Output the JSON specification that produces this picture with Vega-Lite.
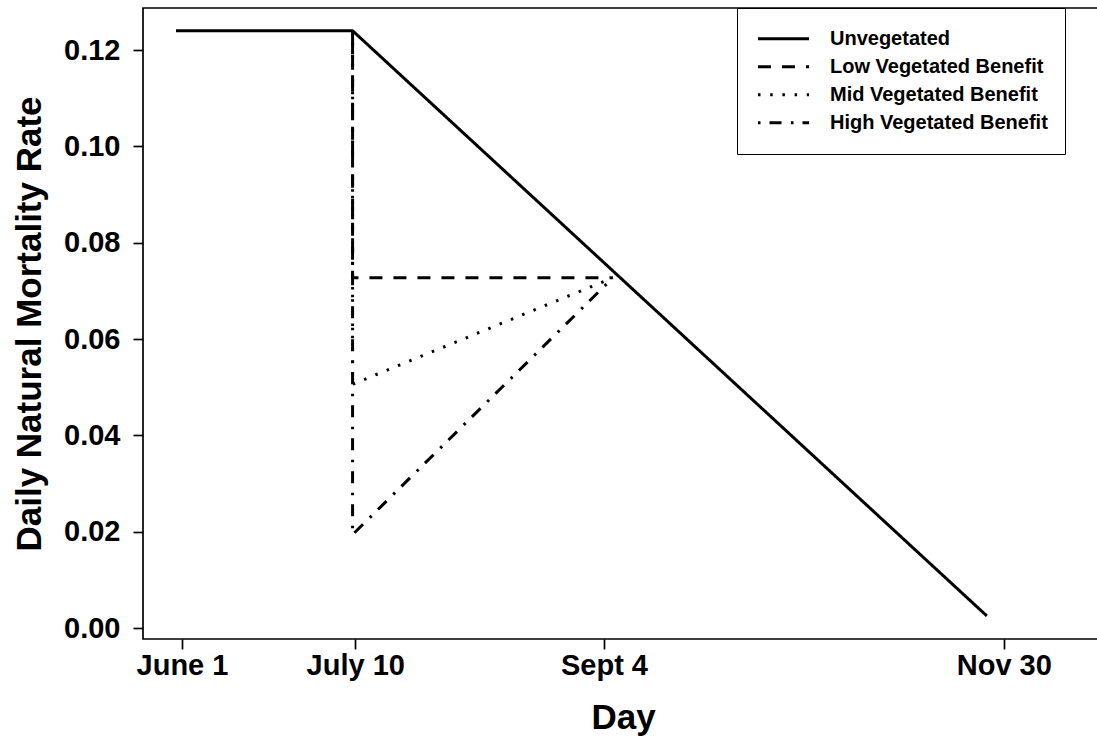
{
  "$schema": "https://vega.github.io/schema/vega-lite/v6.json",
  "width": 960,
  "height": 631,
  "autosize": {"type": "none"},
  "padding": {"left": 143, "top": 8, "right": 0, "bottom": 105},
  "background": "white",
  "config": {
    "view": {"stroke": "black", "strokeWidth": 1.7},
    "axis": {
      "labelFont": "Liberation Sans",
      "labelFontSize": 29,
      "labelFontWeight": "bold",
      "labelColor": "black",
      "tickColor": "black",
      "tickWidth": 1.7,
      "tickSize": 10,
      "domain": false,
      "grid": false,
      "titleFont": "Liberation Sans",
      "titleFontSize": 35,
      "titleFontWeight": "bold",
      "titleColor": "black",
      "labelOverlap": false,
      "labelFlush": false,
      "labelBound": false
    },
    "legend": {
      "orient": "none",
      "legendX": 594,
      "legendY": 0,
      "title": null,
      "strokeColor": "black",
      "fillColor": "white",
      "padding": 17,
      "clipHeight": 27.7,
      "rowPadding": 0,
      "symbolType": "stroke",
      "symbolSize": 2601,
      "symbolStrokeWidth": 3,
      "symbolStrokeColor": "black",
      "symbolOffset": 2.5,
      "labelFont": "Liberation Sans",
      "labelFontSize": 20,
      "labelFontWeight": "bold",
      "labelColor": "black",
      "labelOffset": 19.5,
      "labelLimit": 400
    }
  },
  "data": {
    "values": [
      {"series": "Unvegetated", "day": -1.35, "rate": 0.124, "order": 1},
      {"series": "Unvegetated", "day": 38.4, "rate": 0.124, "order": 2},
      {"series": "Unvegetated", "day": 181.2, "rate": 0.0025, "order": 3},
      {"series": "Low Vegetated Benefit", "day": 38.4, "rate": 0.124, "order": 1},
      {"series": "Low Vegetated Benefit", "day": 38.4, "rate": 0.0727, "order": 2},
      {"series": "Low Vegetated Benefit", "day": 97, "rate": 0.0727, "order": 3},
      {"series": "Mid Vegetated Benefit", "day": 38.4, "rate": 0.124, "order": 1},
      {"series": "Mid Vegetated Benefit", "day": 38.4, "rate": 0.0506, "order": 2},
      {"series": "Mid Vegetated Benefit", "day": 97, "rate": 0.0727, "order": 3},
      {"series": "High Vegetated Benefit", "day": 38.4, "rate": 0.124, "order": 1},
      {"series": "High Vegetated Benefit", "day": 38.4, "rate": 0.0194, "order": 2},
      {"series": "High Vegetated Benefit", "day": 97, "rate": 0.0727, "order": 3}
    ]
  },
  "mark": {"type": "line", "color": "black", "strokeWidth": 3},
  "encoding": {
    "x": {
      "field": "day",
      "type": "quantitative",
      "scale": {"domain": [-8.78, 207.34], "nice": false, "zero": false},
      "axis": {
        "title": "Day",
        "values": [0, 39, 95, 185],
        "labelExpr": "datum.value == 0 ? 'June 1' : datum.value == 39 ? 'July 10' : datum.value == 95 ? 'Sept 4' : 'Nov 30'",
        "labelPadding": 2,
        "titlePadding": 20
      }
    },
    "y": {
      "field": "rate",
      "type": "quantitative",
      "scale": {"domain": [-0.00228, 0.12872], "nice": false, "zero": false},
      "axis": {
        "title": "Daily Natural Mortality Rate",
        "values": [0, 0.02, 0.04, 0.06, 0.08, 0.1, 0.12],
        "format": ".2f",
        "labelPadding": 13,
        "titlePadding": 16
      }
    },
    "strokeDash": {
      "field": "series",
      "type": "nominal",
      "scale": {
        "domain": ["Unvegetated", "Low Vegetated Benefit", "Mid Vegetated Benefit", "High Vegetated Benefit"],
        "range": [[1, 0], [13, 11], [2.5, 9.7], [2.5, 9, 12, 9.5]]
      }
    },
    "order": {"field": "order", "type": "quantitative"}
  }
}
